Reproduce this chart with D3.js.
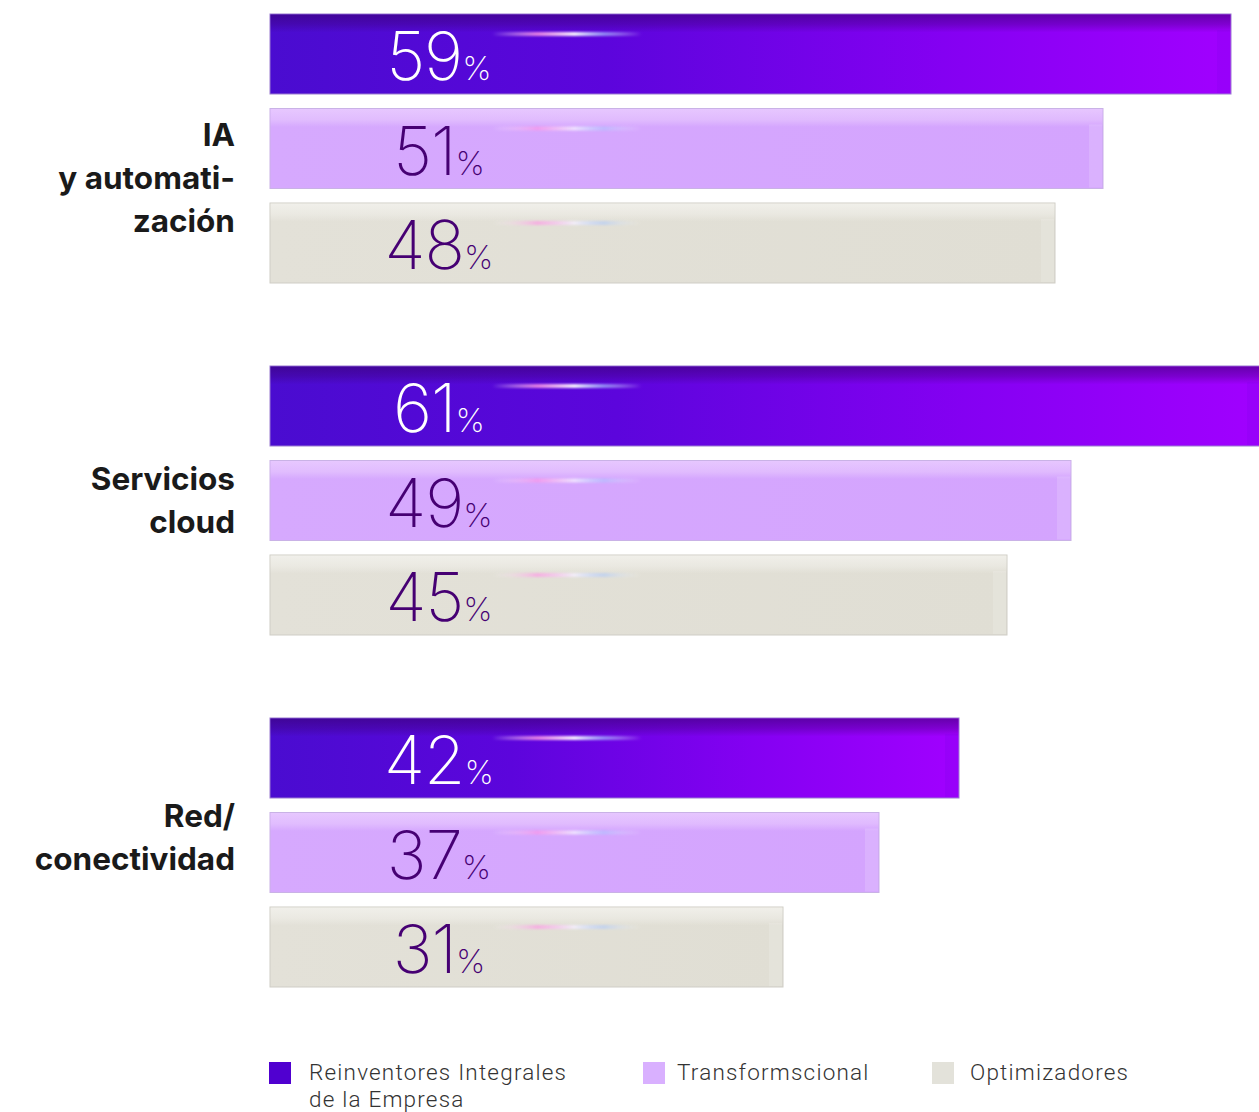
<!DOCTYPE html>
<html>
<head>
<meta charset="utf-8">
<script src="https://cdn.jsdelivr.net/npm/d3@7"></script>
<style>
  html, body { margin: 0; padding: 0; background: #ffffff; }
  svg { display: block; }
</style>
</head>
<body>
<div id="chart"></div>
<script>
// Adoption by technology area and maturity segment (%)
const groups = ["IA y automatización", "Servicios cloud", "Red/conectividad"];
const groupLines = [["IA", "y automati-", "zación"], ["Servicios", "cloud"], ["Red/", "conectividad"]];
const series = ["Reinventores Integrales de la Empresa", "Transformscional", "Optimizadores"];
const legendLines = [["Reinventores Integrales", "de la Empresa"], ["Transformscional"], ["Optimizadores"]];
const reinventores = [59, 61, 42];
const transformacional = [51, 49, 37];
const optimizadores = [48, 45, 31];

const W = 1259, H = 1112;
const barLeft = 270;

const svg = d3.select("#chart").append("svg")
  .attr("width", W).attr("height", H);

const defs = svg.append("defs");

function linGrad(id, stops, vertical) {
  const g = defs.append("linearGradient").attr("id", id);
  if (vertical) g.attr("x1", 0).attr("y1", 0).attr("x2", 0).attr("y2", 1);
  stops.forEach(([o, c]) => g.append("stop").attr("offset", o).attr("stop-color", c));
}

// Horizontal fills per segment
linGrad("gDark", [["0%", "#4a0cd0"], ["35%", "#5c05dc"], ["70%", "#8400f2"], ["100%", "#a100ff"]]);
linGrad("gLight", [["0%", "#d6a9fe"], ["100%", "#d4a4fe"]]);
linGrad("gGrey", [["0%", "#e3e1d8"], ["100%", "#e0ded4"]]);

// Upper band shading, fading downward
linGrad("tDark", [["0%", "rgba(55,0,105,0.55)"], ["55%", "rgba(55,0,105,0.3)"], ["100%", "rgba(55,0,105,0)"]], true);
linGrad("tLight", [["0%", "rgba(238,212,255,0.7)"], ["60%", "rgba(238,212,255,0.45)"], ["100%", "rgba(238,212,255,0)"]], true);
linGrad("tGrey", [["0%", "rgba(242,241,236,0.9)"], ["60%", "rgba(242,241,236,0.5)"], ["100%", "rgba(242,241,236,0)"]], true);

// Soft glint across the top of each bar
linGrad("glint", [["0%", "rgba(255,255,255,0)"], ["30%", "rgba(255,150,230,0.8)"], ["55%", "rgba(245,240,255,1)"],
 ["75%", "rgba(170,200,255,0.65)"], ["100%", "rgba(255,255,255,0)"]]);
defs.append("filter").attr("id", "soft").attr("x", "-20%").attr("y", "-200%").attr("width", "140%").attr("height", "500%")
  .append("feGaussianBlur").attr("stdDeviation", 1.2);

const fills = ["url(#gDark)", "url(#gLight)", "url(#gGrey)"];
const strokes = ["#9a7ad0", "#c9b2e6", "#cfcdc6"];
const topShade = ["url(#tDark)", "url(#tLight)", "url(#tGrey)"];
const valueColor = ["#ffffff", "#460073", "#460073"];
const legendColor = ["#5000d0", "#d9b0ff", "#e3e2da"];

const x = d3.scaleLinear().domain([0, 61]).range([287, 1263]);
const y0 = d3.scaleBand().domain(groups).range([14, 14 + 3 * 352]);
const y1 = d3.scaleBand().domain(series).range([0, 269]).paddingInner(14.5 / 94.5);

const rows = [];
groups.forEach((g, gi) => {
  [reinventores, transformacional, optimizadores].forEach((arr, si) => {
    rows.push({ group: g, gi, series: series[si], si, value: arr[gi] });
  });
});

const bar = svg.append("g").selectAll("g.bar").data(rows).join("g")
  .attr("class", "bar")
  .attr("transform", d => `translate(0,${y0(d.group) + y1(d.series)})`);

const bh = y1.bandwidth();
const barEnd = d => Math.min(x(d.value), W + 2);

bar.append("rect")
  .attr("x", barLeft).attr("y", 0)
  .attr("width", d => barEnd(d) - barLeft)
  .attr("height", bh)
  .attr("fill", d => fills[d.si])
  .attr("stroke", d => strokes[d.si]).attr("stroke-width", 1);

bar.append("rect")
  .attr("x", barLeft + 0.5).attr("y", 0.5)
  .attr("width", d => barEnd(d) - barLeft - 1)
  .attr("height", 18)
  .attr("fill", d => topShade[d.si]);

// Slight inner right edge
bar.append("rect")
  .attr("x", d => barEnd(d) - 14)
  .attr("y", 16).attr("width", 13).attr("height", bh - 17)
  .attr("fill", d => d.si === 0 ? "rgba(120,0,230,0.2)" : "rgba(255,255,255,0.15)");

bar.append("rect")
  .attr("x", 492).attr("y", 18).attr("width", 150).attr("height", 4)
  .attr("rx", 2)
  .attr("fill", "url(#glint)")
  .attr("opacity", d => d.si === 0 ? 1 : 0.8)
  .attr("filter", "url(#soft)");

// Value labels
const vt = bar.append("text")
  .attr("x", 439).attr("y", 66)
  .attr("text-anchor", "middle")
  .attr("fill", d => valueColor[d.si])
  .style("font-family", "Inter, Roboto, sans-serif")
  .style("font-weight", 200);
vt.append("tspan").style("font-size", "67px").style("letter-spacing", "-1px").text(d => d.value);
vt.append("tspan").style("font-size", "33px").text("%");

// Group labels
const labelShift = [29, 0, -15];
const lineH = 43;
svg.append("g").selectAll("text").data(groups).join("text")
  .attr("text-anchor", "end")
  .attr("fill", "#1a1a1a")
  .style("font-family", "Inter, Roboto, sans-serif")
  .style("font-weight", 700)
  .style("font-size", "31.5px")
  .each(function (g, i) {
    const lines = groupLines[i];
    const cy = y0(g) + 269 / 2 + labelShift[i];
    const first = cy - (lines.length - 1) * lineH / 2 + 11;
    d3.select(this).selectAll("tspan").data(lines).join("tspan")
      .attr("x", 235).attr("y", (l, k) => first + k * lineH)
      .text(l => l);
  });

// Legend
const legendX = [269, 643, 932];
const lg = svg.append("g").selectAll("g").data(series).join("g")
  .attr("transform", (d, i) => `translate(${legendX[i]},1062)`);
lg.append("rect").attr("width", 22).attr("height", 22)
  .attr("fill", (d, i) => legendColor[i]);
lg.append("text")
  .attr("fill", "#333333")
  .style("font-family", "Roboto, sans-serif")
  .style("font-weight", 300)
  .style("font-size", "22.5px")
  .style("letter-spacing", "1.2px")
  .each(function (d, i) {
    d3.select(this).selectAll("tspan").data(legendLines[i]).join("tspan")
      .attr("x", i === 2 ? 38 : (i === 1 ? 34 : 40))
      .attr("y", (l, k) => 18 + k * 27)
      .text(l => l);
  });
</script>
</body>
</html>
